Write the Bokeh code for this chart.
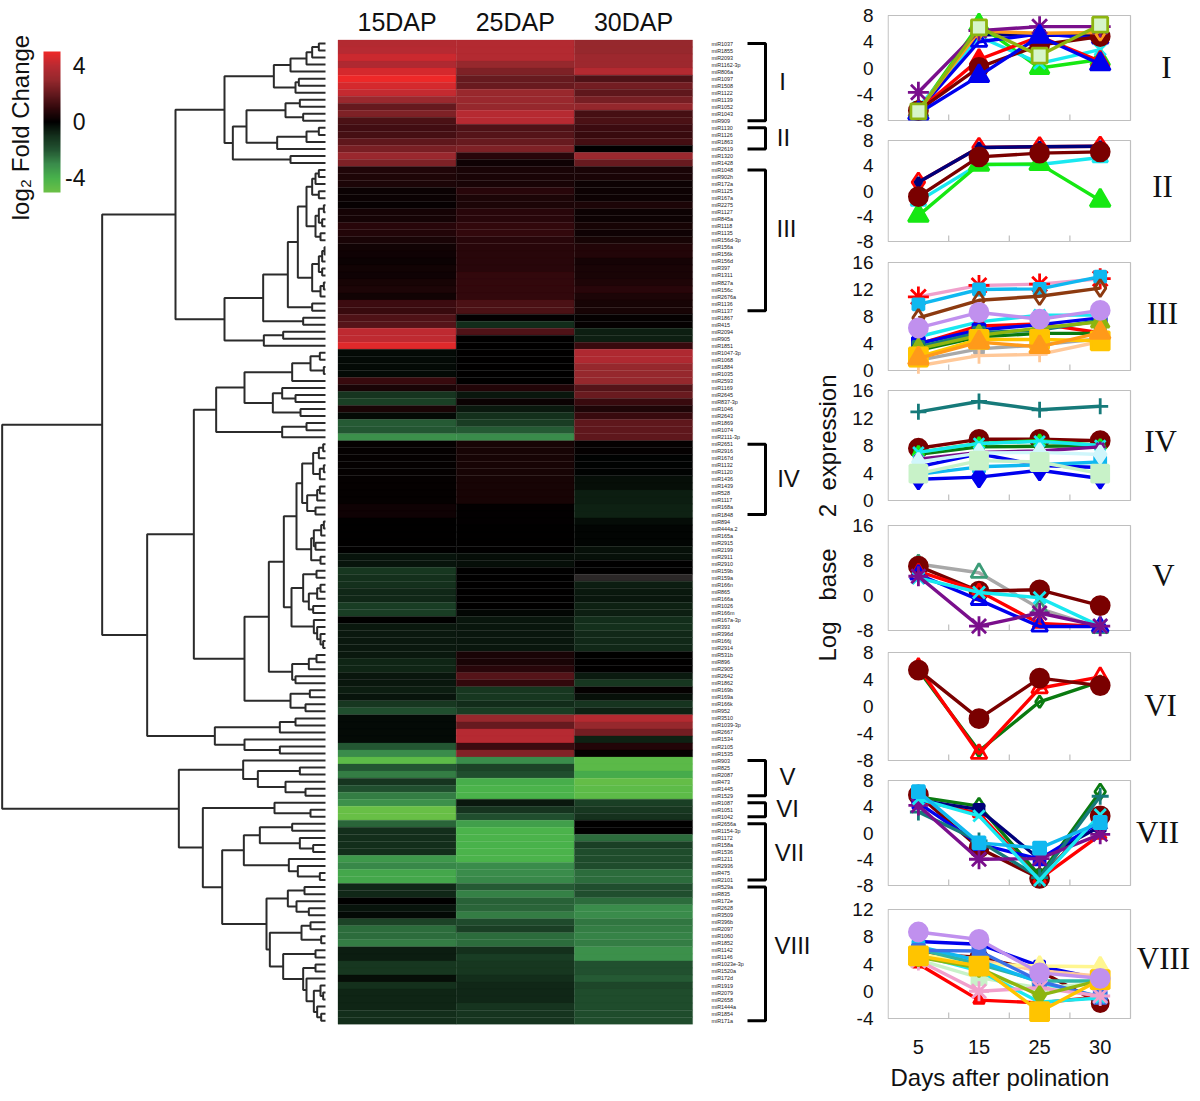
import numpy as np
from bokeh.embed import file_html
from bokeh.resources import INLINE
from bokeh.layouts import row, column
from bokeh.plotting import figure
from bokeh.core.properties import value
from bokeh.models import (ColumnDataSource, Range1d, LinearAxis, FixedTicker, LinearColorMapper, ColorBar, Title)

# ---------------------------------------------------------------- data
mirnas = ["miR1037","miR1855","miR2093","miR1162-3p","miR806a","miR1097","miR1508","miR1122","miR1139","miR1052",
"miR1043","miR909","miR1130","miR1126","miR1863","miR2619","miR1320","miR1428","miR1048","miR902h",
"miR172a","miR1125","miR167a","miR2275","miR1127","miR845a","miR1118","miR1135","miR156d-3p","miR156a",
"miR156k","miR156d","miR397","miR1311","miR827a","miR156c","miR2676a","miR1136","miR1137","miR1867",
"miR415","miR2094","miR905","miR1851","miR1047-3p","miR1068","miR1884","miR1035","miR2593","miR1169",
"miR2645","miR837-3p","miR1046","miR2643","miR1869","miR1074","miR2111-3p","miR2651","miR2916","miR167d",
"miR1132","miR1120","miR1436","miR1439","miR528","miR1117","miR168a","miR1848","miR894","miR444a.2",
"miR165a","miR2915","miR2199","miR2911","miR2910","miR159b","miR159a","miR166n","miR865","miR166a",
"miR1026","miR166m","miR167a-3p","miR393","miR396d","miR166j","miR2914","miR531b","miR896","miR2905",
"miR2642","miR1862","miR169b","miR169a","miR166k","miR952","miR3510","miR1039-3p","miR2667","miR1534",
"miR2105","miR1535","miR903","miR825","miR2087","miR473","miR1445","miR1529","miR1087","miR1051",
"miR1042","miR2656a","miR1154-3p","miR1172","miR158a","miR1536","miR1211","miR2936","miR475","miR2101",
"miR529a","miR835","miR172e","miR2628","miR3509","miR396b","miR2097","miR1060","miR1852","miR1142",
"miR1146","miR1023e-3p","miR1520a","miR172d","miR1919","miR2079","miR2658","miR1444a","miR1854","miR171a"]

col_labels = ["15DAP", "25DAP", "30DAP"]
nan = float("nan")

log2fc_15 = [3.8,3.9,4.3,3.7,4.5,5,4.5,4.2,3.1,2,2.5,1.5,1.3,1.4,1.9,2.4,3.1,2.5,
 .65,.6,.55,.2,.2,.15,.4,.4,.8,.7,.5,.35,.3,.2,.35,.3,.45,.55,.35,
 1.2,1.1,1.6,1.7,4.1,4.1,4.7,
 -.2,-.2,-.2,-.2,1.1,.5,-1.1,-1.4,.5,-.2,-2.1,-2,-3.1,
 .1,.1,.1,.1,.1,.1,.1,.1,.1,.3,.3,0,
 0,0,0,0,-.4,-.4,-1.2,-1,-1,-.8,-.8,-1.35,-1.35,0,-.5,-.5,-.5,-.5,-.5,-.75,-.75,-.45,-.45,-.6,-.4,-1.2,-1.8,
 -.2,-.2,-.2,-.2,-2,-3,-4.6,-2,-2.7,-1.1,-1.8,-2.7,-3.1,-4.9,-4.9,-2.3,-.95,-.95,-.95,-.95,-3.3,-2.9,-3.7,-3.7,
 -.8,-.8,0,-.4,-.2,-1.5,-2.4,-2.4,-2.7,-.6,-.6,-1.2,-1.2,-.3,-1,-.75,-.75,-.75,-.95,-.95]

log2fc_25 = [3.8,3.8,3.8,3,2.5,2.05,2.1,3.05,3.1,3,3.9,3.9,1.6,1.7,2.05,2.5,.8,.3,
 .5,.5,.5,.8,.55,.55,.8,.8,1,1,.8,.8,.8,.8,.8,1,1,1,1,
 1.5,1.5,.05,-.9,1.6,0,0,0,0,0,0,0,.7,-.45,.2,-.5,-1,-1.3,-2.1,-3,
 .45,.45,.45,.45,.45,.45,.45,.45,.45,.05,.05,.05,
 0,0,0,0,-.3,-.3,0,0,0,0,0,0,-.15,-.45,-.45,-.45,-.45,-.45,.5,.5,.8,1.7,1,-1.2,-1.2,-.9,-1.3,
 3,2.05,3.9,3.9,1.2,2.6,-3,-1.5,-1.8,-3.9,-4.1,-4.1,-.5,-1.1,-1.8,-3.5,-4.1,-4.1,-4,-4.1,-4.1,-3,-3,-2.9,
 -2.1,-2.8,-2.2,-2.3,-2.7,-1.7,-1.4,-2.4,-2.4,-1,-1.35,-1.2,-1.2,-.95,-.8,-.8,-.8,-1.1,-1.1,-1.1]

log2fc_30 = [3,3,3.2,3.2,3.8,1.6,2.3,1.9,2.35,2.95,1.4,1.5,1.2,1.1,1.35,0,3.1,2.05,
 .5,.5,.25,.25,.25,.55,.25,.25,.45,.3,.45,.7,.7,.4,.5,.5,.6,.8,.55,
 .45,.45,.1,.1,-.65,-.65,1.1,3.7,3.7,3,3,3,1.7,2.1,1.1,.6,1.1,1.9,1.9,1.9,
 .1,.1,-.05,-.05,-.05,-.3,-.3,-.6,-.6,-.7,-.7,-.25,
 -.1,-.1,-.1,-.35,-.35,0,0,nan,-.6,-.5,-.45,-.7,-.65,-.95,-1,-.85,-.85,-.85,0,0,0,-.55,-1.2,.1,-.35,-1.1,-.7,
 3.8,3,2.3,-.7,.7,.1,-4.5,-4.5,-3.8,-4.8,-4.6,-4.6,-1.4,-1.2,-1.05,0,0,-2.4,-1.4,-1.75,-1.75,-1.75,-2.4,-2.4,
 -1.8,-1.8,-2.4,-3,-3,-2.6,-2.7,-2.85,-2.7,-3.1,-3.1,-1.85,-1.85,-2.1,-1.6,-1.75,-1.75,-1.75,-1.75,-1.75]

# hierarchical tree: (merge position, left child, right child); 0 = next miRNA in order
tree = (5,
 (305,
  (525,
   (672,
    (820,(870,(918,(935,(955,0,0),0),0),0),(885,(895,0,0),0)),
    (697,(738,(855,(898,0,0),(908,0,0)),(830,(918,(955,0,0),0),0)),(870,0,0))),
   (672,
    (788,
     (862,
      (892,
       (918,(935,(945,(955,0,0),0),(955,0,0)),(945,(955,(970,0,0),(965,0,0)),(960,0,0))),
       (935,(955,(965,(972,0,0),0),(965,0,0)),(960,(970,0,0),0))),
      (935,0,0)),
     (908,0,0)),
    (790,(848,0,0),0))),
  (440,
   (580,
    (647,
     (732,(875,(930,(958,0,0),(970,0,0)),0),(817,(845,0,(885,0,0)),(900,0,0))),
     (845,(918,0,0),0)),
    (732,
     (805,
      (850,
       (888,
        (905,(938,(955,(968,0,0),0),(958,(970,0,0),0)),(920,(950,(958,0,0),0),(945,0,0))),
        (932,(940,(962,(970,0,0),0),(945,0,0)),(960,0,0))),
       (873,
        (908,(948,0,0),(925,(950,(960,0,0),0),(938,0,0))),
        (940,0,(950,0,(960,0,(968,0,0)))))),
      (875,(925,(948,0,0),0),(885,0,0))),
     (870,(928,0,0),(915,0,0)))),
   (643,(838,(885,0,0),0),(732,0,(838,0,0))))),
 (535,
  (728,0,(772,(898,0,0),(855,0,(915,0,0)))),
  (607,
   (822,0,(930,0,0)),
   (665,
    (730,(778,(875,0,0),(898,0,(938,0,0))),(865,0,(892,0,(958,0,0)))),
    (798,
     (862,(912,0,0),(888,0,(925,0,0))),
     (808,
      (903,(930,0,0),(962,0,0)),
      (848,(945,0,0),(908,(945,0,0),(918,0,(940,(960,0,(968,0,0)),(950,0,(962,0,0))))))))))))

clusters = ["I", "II", "III", "IV", "V", "VI", "VII", "VIII"]
cluster_first = [0, 12, 18, 57, 102, 108, 111, 120]
cluster_last = [11, 15, 38, 67, 107, 110, 119, 139]

days = ["5", "15", "25", "30"]
legend_ticks = [4, 0, -4]

panel_I = [[-6.4,5.1,5.0,5.0],[-6.5,6.6,0.0,1.3],[-6.0,4.8,0.7,2.8],[-6.5,4.0,5.2,4.5],[-6.5,1.3,4.8,1.0],
           [-6.5,0.1,3.5,4.8],[-6.5,5.6,5.3,5.4],[-3.7,5.7,6.3,6.3],[-6.9,-1.2,4.8,0.6],[-6.6,6.2,1.9,6.6]]
panel_II = [[1.4,6.9,7.0,7.1],[-1.6,4.2,4.2,5.3],[-3.9,4.2,4.3,-1.5],[1.4,6.9,7.0,7.1],[-0.9,5.4,6.0,6.2]]
panel_III = [[10.9,12.6,12.8,13.6],[9.8,12.0,12.1,13.9],[7.8,10.4,11.0,12.2],[5.0,7.2,8.2,8.2],[3.9,6.6,6.9,5.6],
             [4.0,6.0,6.8,7.8],[3.5,5.6,6.0,7.4],[3.0,5.0,5.5,5.5],[1.5,3.2,3.8,4.7],[0.7,2.2,2.4,4.3],
             [3.2,5.2,6.3,7.2],[2.0,4.6,4.6,4.4],[1.8,4.2,3.5,5.6],[6.3,8.6,7.6,8.9]]
panel_IV = [[12.9,14.4,13.2,13.7],[7.6,8.9,8.9,8.7],[6.7,7.8,7.9,8.0],[7.0,8.3,8.7,8.0],[7.0,8.3,8.6,8.0],
            [6.0,7.0,7.2,7.8],[4.9,6.8,5.1,4.8],[3.8,4.9,5.2,5.6],[3.1,3.4,4.4,3.2],[5.6,6.9,7.0,6.7],[3.9,5.8,5.6,3.9]]
panel_V = [[7.2,5.2,-3.0,-7.4],[6.7,1.0,1.3,-2.3],[5.5,1.0,-6.4,-7.1],[4.8,-1.0,-7.1,-7.1],[4.0,0.7,-0.5,-7.0],[4.4,-7.0,-4.0,-7.0]]
panel_VI = [[5.4,-6.6,0.7,3.7],[5.8,-7.0,2.7,4.4],[5.4,-1.8,4.2,3.1]]
panel_VII = [[5.8,-2.3,-6.9,2.6],[5.0,3.0,-7.0,-0.3],[5.5,4.1,-6.5,6.3],[5.0,3.6,-4.0,1.0],[4.6,-1.7,-4.0,1.7],
             [3.2,-1.2,-6.8,5.6],[4.2,-4.0,-3.9,-0.2],[5.2,2.6,-7.2,2.8],[6.3,-1.5,-2.3,1.6]]
panel_VIII = [[5.5,5.0,3.0,-1.8],[7.3,6.9,3.7,1.8],[6.2,4.6,3.0,2.2],[5.5,4.0,3.7,3.6],[6.2,4.0,1.5,1.5],
              [4.6,2.0,0.5,1.2],[4.0,-1.3,-1.7,-0.8],[6.6,4.5,1.3,-0.8],[6.0,5.9,1.5,-0.9],[5.3,3.0,-1.6,-1.0],
              [4.5,0.0,0.5,-0.7],[5.0,3.4,-0.6,1.6],[5.2,3.7,-3.0,1.7],[8.7,7.6,2.7,1.9]]

panel_values = [panel_I, panel_II, panel_III, panel_IV, panel_V, panel_VI, panel_VII, panel_VIII]
panel_ylim = [(-8,8),(-8,8),(0,16),(0,16),(-8,16),(-8,8),(-8,8),(-4,12)]
panel_ticks = [[-8,-4,0,4,8],[-8,-4,0,4,8],[0,4,8,12,16],[0,4,8,12,16],[-8,0,8,16],[-8,-4,0,4,8],[-8,-4,0,4,8],[-4,0,4,8,12]]

# ---------------------------------------------------------------- styles: (line, marker, size, fill, marker line)
NAVY, RED, DRED, CY, GRN, BLUE, PUR = "#00007a", "#ff0000", "#7a0000", "#19e8f0", "#16e812", "#0000ee", "#7a0f8c"
ORG, LIME, SKY, TEAL, DGRN, GOLD, LAV = "#ff9a1a", "#8db510", "#10b8f0", "#167a7a", "#0a7a10", "#ffc400", "#c090ee"
PINK, PEACH, BRN, GRAY, SEA, PGRN, ROY = "#f0a0cc", "#ffc898", "#8c3a10", "#a8a8a8", "#3c9c78", "#c8f2c8", "#3a70e8"
S = lambda c, m, z, f=None, lc=None, lw=2.8: dict(c=c, m=m, z=z, f=f, lc=lc or c, lw=lw)
panel_styles = [
 [S(NAVY,"square",10,NAVY),S(GRN,"triangle",19,GRN),S(CY,"x",16),S(BLUE,"triangle",16),S(RED,"triangle",18,RED),
  S(DRED,"circle",18,DRED),S(ORG,"diamond",16),S(PUR,"asterisk",21),S(BLUE,"triangle",20,BLUE),S(LIME,"square",15,"#d6f5c9")],
 [S(RED,"diamond",19),S(CY,"triangle",15),S(GRN,"triangle",20,GRN),S(NAVY,"diamond",10,NAVY),S(DRED,"circle",18,DRED)],
 [S(PINK,"asterisk",21,None,RED),S(SKY,"square",11,SKY),S(BRN,"diamond",17),S(CY,"x",16),S(RED,"x",13),
  S(BLUE,"square",12,BLUE),S(TEAL,"square",11,TEAL),S(DGRN,"square",10,DGRN),S(GRAY,"square",9,GRAY),S(PEACH,"+",16),
  S(LIME,"triangle",18,LIME),S(GOLD,"square",18,GOLD),S(ORG,"triangle",20,ORG),S(LAV,"circle",18,LAV)],
 [S(TEAL,"+",16),S(DRED,"circle",18,DRED),S(DGRN,"square",8,DGRN),S(GRN,"triangle",11,GRN),S(CY,"x",15),
  S(PUR,"asterisk",11),S(BLUE,"triangle",14,BLUE),S(SKY,"square",11,SKY),S(BLUE,"diamond",20,BLUE),S("#d0f6fb","diamond",18,"#d0f6fb"),S(PGRN,"square",17,PGRN)],
 [S(GRAY,"triangle",16,None,SEA),S(DRED,"circle",18,DRED),S(RED,"triangle",13),S(BLUE,"triangle",16),S(CY,"x",17),S(PUR,"asterisk",20)],
 [S(DGRN,"diamond",12),S(RED,"triangle",16),S(DRED,"circle",18,DRED)],
 [S(DRED,"circle",18,DRED),S(RED,"triangle",12,RED),S(DGRN,"diamond",16),S(NAVY,"square",10,NAVY),S(BLUE,"square",11,BLUE),
  S(TEAL,"+",17),S(PUR,"asterisk",20),S(CY,"x",16),S(SKY,"square",12,SKY)],
 [S(DRED,"circle",16,DRED),S(BLUE,"square",10,BLUE),S(PEACH,"square",9,PEACH),S("#fff690","triangle",17,"#fff690"),S("#2fb5a5","square",10,"#2fb5a5"),
  S(PGRN,"square",14,PGRN),S(RED,"triangle",11,RED),S(SKY,"square",11,SKY),S(ROY,"square",12,ROY),S(CY,"x",13),
  S(PINK,"asterisk",20),S(LIME,"diamond",18,LIME),S(GOLD,"square",18,GOLD),S(LAV,"circle",18,LAV)],
]

# ---------------------------------------------------------------- layout constants
SANS = value("Liberation Sans")
SERIF = value("Liberation Serif")
TOTAL_H = 1100
ROW0, PITCH = 43.0, 7.03           # page y of row 0 and row spacing
COL0, COLW = 337.5, 118.2          # page x of heat map and column width
rowy = lambda py: (py - ROW0) / PITCH
yr = lambda: Range1d(start=rowy(TOTAL_H), end=rowy(0))

stops_v = [-5, -4, -3, -2, -1, 0, 1, 2, 3, 4, 5]
stops_c = [(107,192,70),(72,178,75),(58,140,75),(35,85,50),(20,48,28),(0,0,0),(50,8,12),(100,25,30),(150,40,45),(185,42,50),(238,40,40)]
vv = np.linspace(-5, 5, 256)
palette = ["#%02x%02x%02x" % tuple(int(round(np.interp(t, stops_v, [c[i] for c in stops_c]))) for i in range(3)) for t in vv]
mapper = LinearColorMapper(palette=palette, low=-5, high=5, nan_color="#2b2727")

# ---------------------------------------------------------------- dendrogram + colour bar
A_W = 330
ax_px = lambda px: 325 - px
pa = figure(width=A_W, height=TOTAL_H, x_range=Range1d(325, 325 - A_W), y_range=yr(), x_axis_type=None, y_axis_type=None,
            toolbar_location=None, output_backend="svg", outline_line_color=None, min_border=0)
pa.grid.visible = False
xs, ys = [], []
counter = [0]
def walk(n):
    if n == 0:
        counter[0] += 1
        return 0.0, counter[0] - 1.0
    h = (975 - n[0]) / 3
    xa, ya = walk(n[1])
    xb, yb = walk(n[2])
    xs.append([xa, h, h, xb])
    ys.append([ya, ya, yb, yb])
    return h, (ya + yb) / 2
walk(tree)
assert counter[0] == len(mirnas) == 140
pa.multi_line(xs, ys, line_color="#2b2b2b", line_width=2)
pa.text(x=[ax_px(20)], y=[rowy(127)], text=["log\u2082 Fold Change"], angle=np.pi / 2, text_align="center",
        text_baseline="middle", text_font=SANS, text_font_size="24px", text_color="#111111")
cb = ColorBar(color_mapper=mapper, location=(43, TOTAL_H - 192), width=17, height=141, padding=0, margin=0,
              ticker=FixedTicker(ticks=[]), major_tick_line_color=None, minor_tick_line_color=None,
              bar_line_color=None, border_line_color=None, background_fill_color=None)
pa.add_layout(cb, "center")
pa.text(x=[ax_px(85)] * 3, y=[rowy(121 - t * 14.1) for t in legend_ticks], text=[str(t) for t in legend_ticks],
        text_align="right", text_baseline="middle", text_font=SANS, text_font_size="23px", text_color="#111111")

# ---------------------------------------------------------------- heat map, labels, brackets
B_W = 517
colx = lambda px: (px - COL0) / COLW
pb = figure(width=B_W, height=TOTAL_H, x_range=Range1d(colx(A_W), colx(A_W + B_W)), y_range=yr(), x_axis_type=None,
            y_axis_type=None, toolbar_location=None, output_backend="svg", outline_line_color=None, min_border=0)
pb.grid.visible = False
hm_col, hm_row, hm_val = [], [], []
for j, vals in enumerate([log2fc_15, log2fc_25, log2fc_30]):
    assert len(vals) == 140
    for i, v in enumerate(vals):
        hm_col.append(j + .5); hm_row.append(i); hm_val.append(v)
hm = ColumnDataSource(dict(x=hm_col, y=hm_row, v=hm_val))
pb.rect(x="x", y="y", width=1, height=1, source=hm, fill_color={"field": "v", "transform": mapper},
        line_color={"field": "v", "transform": mapper}, line_width=0.3)
pb.text(x=[.5, 1.5, 2.5], y=[rowy(21)] * 3, text=col_labels, text_align="center", text_baseline="middle",
        text_font=SANS, text_font_size="25px", text_color="#111111")
pb.text(x=[colx(711)] * 140, y=list(range(140)), text=mirnas, text_align="left", text_baseline="middle",
        text_font=SANS, text_font_size="5.4px", text_color="#222222")
bx0, bx1 = colx(747), colx(765)
pb.multi_line([[bx0, bx1, bx1, bx0] for _ in clusters], [[a, a, b, b] for a, b in zip(cluster_first, cluster_last)],
              line_color="#000000", line_width=3)
lab_px = [782, 783, 786, 788, 787, 787, 789, 792]
lab_py = [81, 137, 228, 478, 776, 808, 852, 945]
pb.text(x=[colx(p) for p in lab_px], y=[rowy(p) for p in lab_py], text=clusters, text_align="center", text_baseline="middle",
        text_font=SANS, text_font_size="24px", text_color="#111111")
for word, py in zip(["expression", "2", "base", "Log"], [432, 510, 574, 641]):
    pb.text(x=[colx(827)], y=[rowy(py)], text=[word], angle=np.pi / 2, text_align="center", text_baseline="middle",
            text_font=SANS, text_font_size="24px", text_color="#111111")

# ---------------------------------------------------------------- line panels
frame_px = [(15,120),(140,241),(262,370),(390,500),(525,630),(652,760),(780,885),(909,1018)]
cuts = [0, 130, 251, 380, 512, 641, 770, 897, 1030]
rom_px = [1166, 1162, 1162, 1160, 1163, 1160, 1157, 1163]
rom_py = [67, 186, 313, 441, 575, 705, 832, 958]
L_BORDER = 40
PANEL_W = 1200 - A_W - B_W
XL, UNIT = 887.6, 60.6
x_px = lambda px: 0.5 + (px - XL) / UNIT
panels = []
for k, (vals, styles) in enumerate(zip(panel_values, panel_styles)):
    T, B = frame_px[k]
    lo, hi = panel_ylim[k]
    per = (hi - lo) / (B - T)
    a, b = cuts[k], cuts[k + 1]
    last = k == len(panel_values) - 1
    h = (TOTAL_H - a) if last else (b - a)
    p = figure(width=PANEL_W, height=h, x_range=Range1d(0.5 + (A_W + B_W + L_BORDER - XL) / UNIT, x_px(1200)),
               y_range=Range1d(lo - (b - B) * per, hi + (T - a) * per), x_axis_type=None, y_axis_type=None,
               toolbar_location=None, output_backend="svg", outline_line_color=None, min_border=0,
               min_border_left=L_BORDER, min_border_bottom=(TOTAL_H - b) if last else 0)
    p.grid.visible = False
    ax = LinearAxis(ticker=FixedTicker(ticks=panel_ticks[k]), bounds=(lo, hi), axis_line_color=None,
                    major_tick_line_color=None, minor_tick_line_color=None, major_tick_out=0, major_tick_in=0,
                    minor_tick_out=0, minor_tick_in=0, major_label_standoff=14,
                    major_label_text_font="Liberation Sans", major_label_text_font_size="19px",
                    major_label_text_color="#111111", major_label_overrides={t: str(t) for t in panel_ticks[k]})
    p.add_layout(ax, "left")
    p.quad(left=[.5], right=[4.5], bottom=[lo], top=[hi], fill_color=None, line_color="#bfbfbf", line_width=1.2)
    bounds = [1.5, 2.5, 3.5]
    p.segment(x0=bounds, x1=bounds, y0=[lo] * 3, y1=[lo + 6 * per] * 3, line_color="#bfbfbf", line_width=1.2)
    for v, st in zip(vals, styles):
        X = [1, 2, 3, 4]
        p.line(X, v, line_color=st["c"], line_width=3.4)
        p.scatter(X, v, marker=st["m"], size=st["z"], fill_color=st["f"], line_color=st["lc"], line_width=st["lw"])
    p.text(x=[x_px(rom_px[k])], y=[hi - (rom_py[k] - T) * per], text=[clusters[k]], text_align="center",
           text_baseline="middle", text_font=SERIF, text_font_size="31px", text_color="#111111")
    if last:
        bx = LinearAxis(ticker=FixedTicker(ticks=[1, 2, 3, 4]), axis_line_color=None,
                        major_tick_line_color=None, minor_tick_line_color=None, major_tick_out=0, major_tick_in=0,
                        minor_tick_out=0, minor_tick_in=0, major_label_standoff=9,
                        major_label_overrides={i + 1: d for i, d in enumerate(days)},
                        major_label_text_font="Liberation Sans", major_label_text_font_size="20px",
                        major_label_text_color="#111111")
        p.add_layout(bx, "below")
        p.add_layout(Title(text="Days after polination", align="left", offset=3, standoff=11,
                           text_font="Liberation Sans", text_font_size="24px", text_font_style="normal",
                           text_color="#111111"), "below")
    panels.append(p)

layout = row(pa, pb, column(*panels, spacing=0), spacing=0)
open("out.html", "w").write(file_html(layout, INLINE))
